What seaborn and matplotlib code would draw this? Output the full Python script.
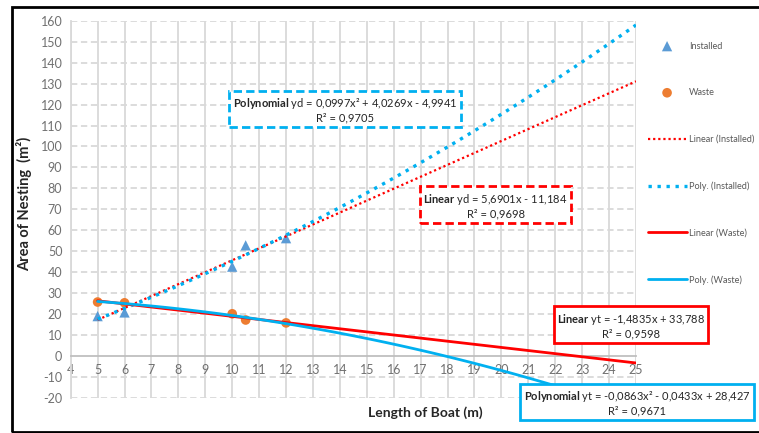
import numpy as np
import matplotlib
matplotlib.use('Agg')
import matplotlib.pyplot as plt
from matplotlib.patches import Rectangle
import seaborn as sns

# boat lengths (m) and nesting areas (m2)
boat_length = [5, 6, 10, 10.5, 12]
installed = [19.06, 20.82, 42.66, 52.83, 56.24]
waste = [25.79, 25.41, 20.18, 17.21, 15.83]

x_ticks = list(range(4, 26))
y_ticks = list(range(-20, 161, 10))

eq_poly_installed = '$\\mathbf{Polynomial}$ yd = 0,0997x² + 4,0269x - 4,9941\nR² = 0,9705'
eq_lin_installed = '$\\mathbf{Linear}$ yd = 5,6901x - 11,184\nR² = 0,9698'
eq_lin_waste = '$\\mathbf{Linear}$ yt = -1,4835x + 33,788\nR² = 0,9598'
eq_poly_waste = '$\\mathbf{Polynomial}$ yt = -0,0863x² - 0,0433x + 28,427\nR² = 0,9671'

sns.set_style('white')
plt.rcParams['font.family'] = ['Lato', 'DejaVu Sans']
plt.rcParams['mathtext.fontset'] = 'custom'
plt.rcParams['mathtext.rm'] = 'Lato'
plt.rcParams['mathtext.bf'] = 'Lato:bold'
plt.rcParams['axes.unicode_minus'] = False

W, H = 759, 433
fig = plt.figure(figsize=(W / 100, H / 100), dpi=100)
ax = fig.add_axes([70.7 / W, 1 - 398 / H, (636 - 70.7) / W, (398 - 20.7) / H])

blue = '#5B9BD5'
orange = '#ED7D31'
red = '#FF0000'
cyan = '#00B0F0'

sns.scatterplot(x=boat_length, y=installed, marker='^', color=blue, s=55,
                edgecolor='none', label='Installed', ax=ax, zorder=2)
sns.scatterplot(x=boat_length, y=waste, marker='o', color=orange, s=48,
                edgecolor='none', label='Waste', ax=ax, zorder=2)

# trendlines start at the first point and forecast up to 25 m
ax.set_xlim(5, 25)
sns.regplot(x=boat_length, y=installed, order=1, ci=None, scatter=False, truncate=False,
            color=red, label='Linear (Installed)',
            line_kws=dict(ls=(0, (1, 1.3)), lw=1.6, zorder=3), ax=ax)
sns.regplot(x=boat_length, y=installed, order=2, ci=None, scatter=False, truncate=False,
            color=cyan, label='Poly. (Installed)',
            line_kws=dict(ls=(0, (1, 1.7)), lw=2.4, zorder=3), ax=ax)
sns.regplot(x=boat_length, y=waste, order=1, ci=None, scatter=False, truncate=False,
            color=red, label='Linear (Waste)', line_kws=dict(lw=2, zorder=3), ax=ax)
sns.regplot(x=boat_length, y=waste, order=2, ci=None, scatter=False, truncate=False,
            color=cyan, label='Poly. (Waste)', line_kws=dict(lw=2, zorder=3), ax=ax)

ax.set_xlim(4, 25)
ax.set_ylim(-20, 160)
ax.set_xticks(x_ticks)
ax.set_yticks(y_ticks)
ax.set_xlabel('')
ax.set_ylabel('')

# excel style grid: solid verticals, dashed horizontals
for xv in x_ticks:
    ax.axvline(xv, color='#D9D9D9', lw=1.3, zorder=0)
for yv in y_ticks:
    if yv != 0:
        ax.axhline(yv, color='#D9D9D9', lw=1.3, ls=(0, (3.5, 2)), zorder=0)

for side in ['top', 'right']:
    ax.spines[side].set_visible(False)
ax.spines['left'].set_color('#D9D9D9')
ax.spines['left'].set_linewidth(1.3)
ax.spines['bottom'].set_position(('data', 0))
ax.spines['bottom'].set_color('#BFBFBF')
ax.spines['bottom'].set_linewidth(1.3)
ax.tick_params(axis='both', length=0, labelsize=9, labelcolor='#707070')
ax.tick_params(axis='x', pad=6)
ax.tick_params(axis='y', pad=6)

handles, labels = ax.get_legend_handles_labels()
ax.legend(handles, labels, loc='upper left', bbox_to_anchor=(643 / W, 1 - 37 / H),
          bbox_transform=fig.transFigure, frameon=False, fontsize=6.6, labelcolor='#595959',
          labelspacing=4.1, handlelength=4.25, handletextpad=0.3, borderpad=0)

fig.text(24 / W, 1 - 204 / H, 'Area of Nesting  (m²)', rotation=90, ha='center', va='center',
         fontsize=10.5, fontweight='bold')
fig.text(425 / W, 1 - 413 / H, 'Length of Boat (m)', ha='center', va='center',
         fontsize=10, fontweight='bold')

boxes = [
    (eq_poly_installed, 345, 110, cyan, '--'),
    (eq_lin_installed, 495.5, 205.5, red, '--'),
    (eq_lin_waste, 631, 325.5, red, '-'),
    (eq_poly_waste, 637, 403, cyan, '-'),
]
for txt, px, py, col, style in boxes:
    fig.text(px / W, 1 - py / H, txt, ha='center', va='center', multialignment='center',
             fontsize=8, color='#262626', zorder=5,
             bbox=dict(boxstyle='square,pad=0.3', fc='white', ec=col, lw=2,
                       ls=(0, (3, 1.5)) if style == '--' else '-'))

fig.patches.append(Rectangle((12 / W, 1 - 432 / H), 2, (432 - 7) / H, transform=fig.transFigure,
                             fill=False, ec='black', lw=2))

fig.savefig('out.png', dpi=100)
